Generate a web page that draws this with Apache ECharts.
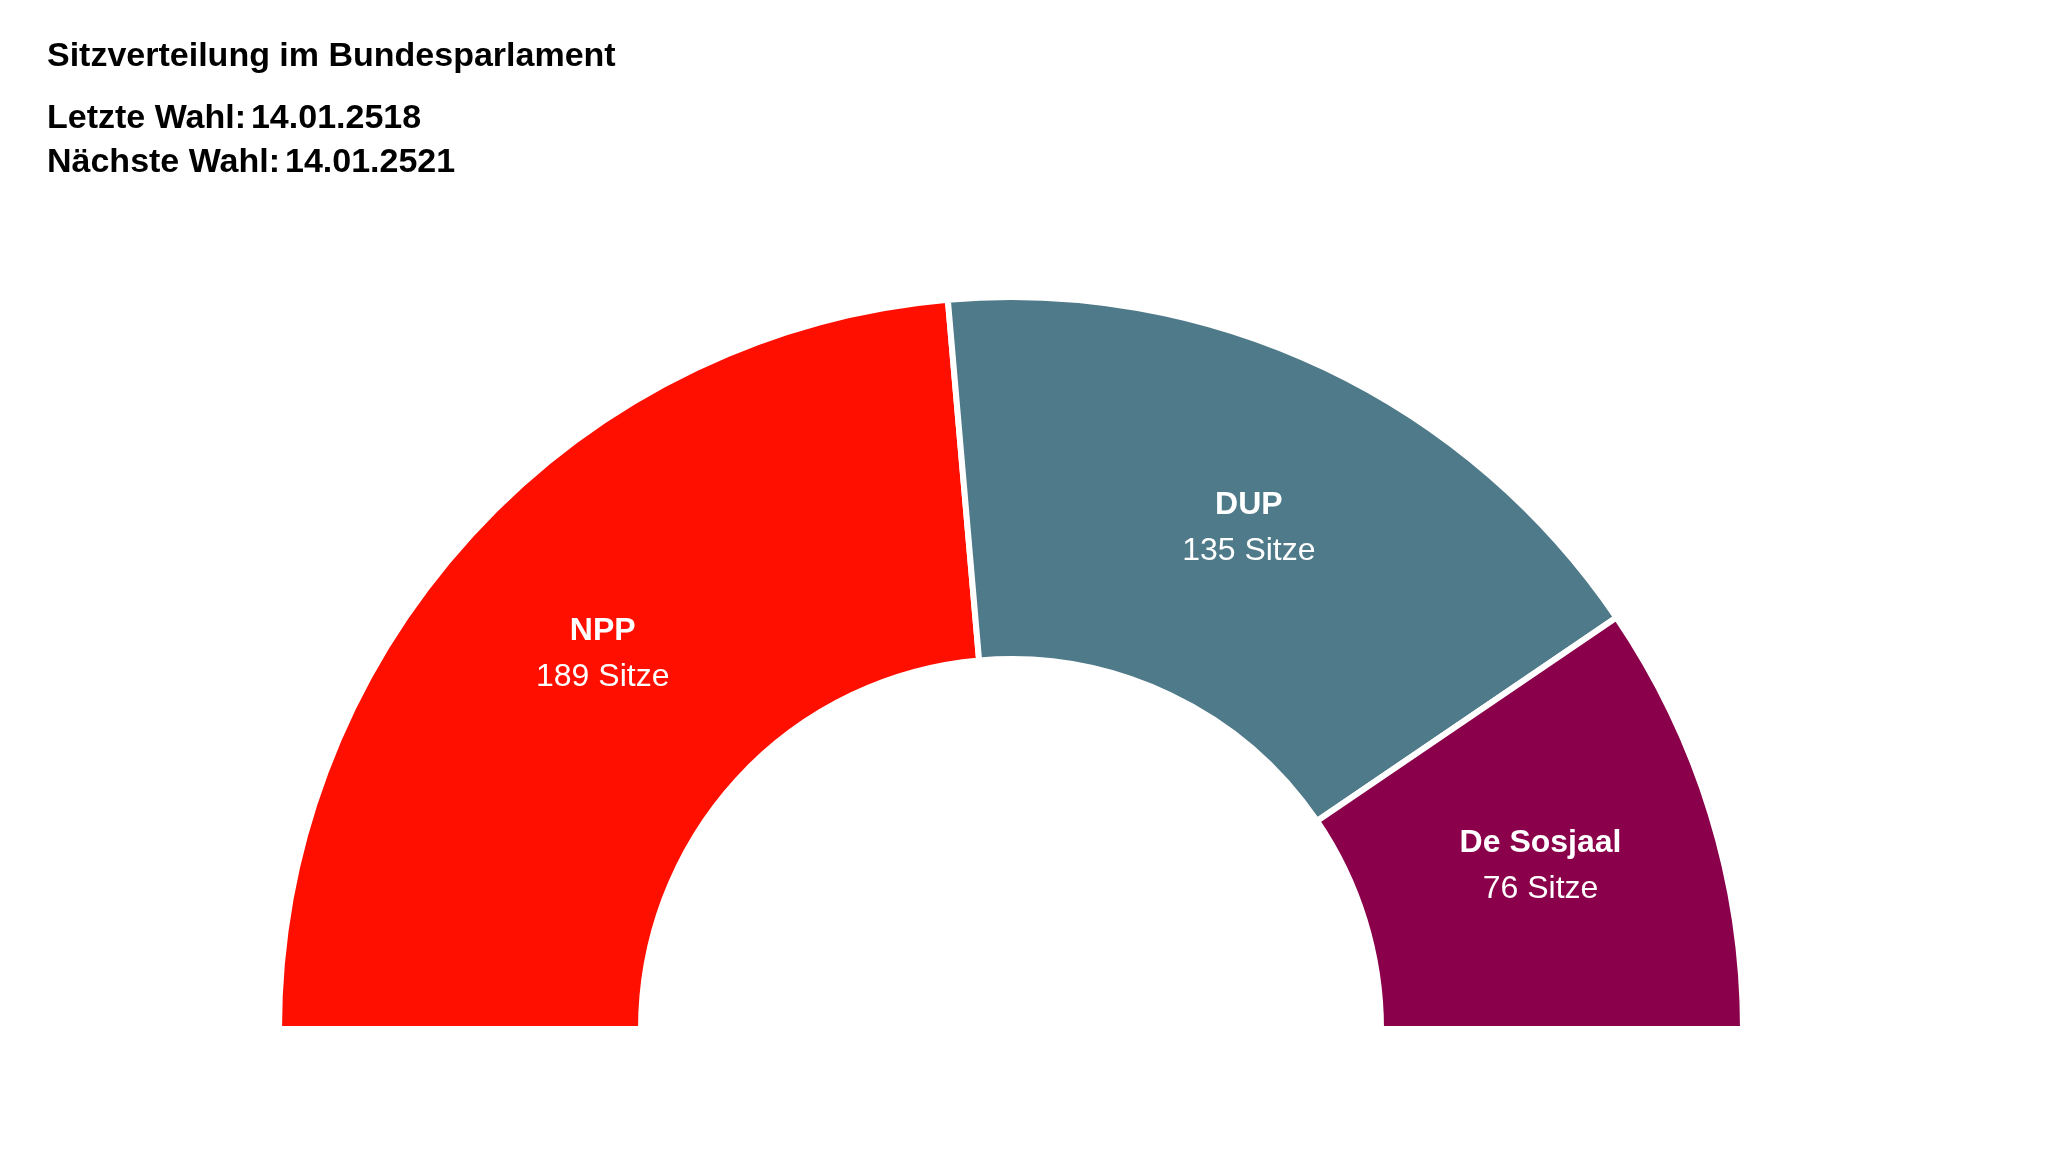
<!DOCTYPE html>
<html>
<head>
<meta charset="utf-8">
<script src="https://cdn.jsdelivr.net/npm/echarts@6/dist/echarts.min.js"></script>
<style>
  html, body { margin: 0; padding: 0; background: #fff; }
  #chart { width: 2053px; height: 1155px; }
</style>
</head>
<body>
<div id="chart"></div>
<script>
// Parteien und Sitze
const parties = ['NPP', 'DUP', 'De Sosjaal'];
const seats = [189, 135, 76];
const colors = ['#ff0f00', '#4e7a89', '#8a004a'];

const chart = echarts.init(document.getElementById('chart'));

const option = {
    animation: false,
    title: {
        left: 42,
        top: 30,
        text: '{b|Sitzverteilung im Bundesparlament}\n\n{b|Letzte Wahl:} {n|14.01.2518}\n{b|Nächste Wahl:} {n|14.01.2521}',
        textStyle: {
            rich: {
                b: { fontFamily: 'Liberation Sans, Arial', fontWeight: 'bold', fontSize: 34, color: '#000', lineHeight: 44 },
                n: { fontFamily: 'Liberation Sans, Arial', fontSize: 34, color: '#000', lineHeight: 44 }
            }
        }
    },
    series: [{
        type: 'pie',
        center: [1011, 1029],
        radius: [370, 732],
        startAngle: 180,
        endAngle: 0,
        clockwise: true,
        itemStyle: { borderColor: '#fff', borderWidth: 6 },
        label: {
            show: true,
            position: 'inside',
            formatter: function(p) {
                return '{n|' + p.name + '}\n{s|' + p.value + ' Sitze}';
            },
            rich: {
                n: { fontFamily: 'Liberation Sans, Arial', fontWeight: 'bold', fontSize: 32, color: '#fff', lineHeight: 46 },
                s: { fontFamily: 'Liberation Sans, Arial', fontSize: 32, color: '#fff', lineHeight: 46 }
            }
        },
        labelLine: { show: false },
        data: parties.map(function(name, i) {
            return { name: name, value: seats[i], itemStyle: { color: colors[i] } };
        })
    }]
};

chart.setOption(option);
</script>
</body>
</html>
